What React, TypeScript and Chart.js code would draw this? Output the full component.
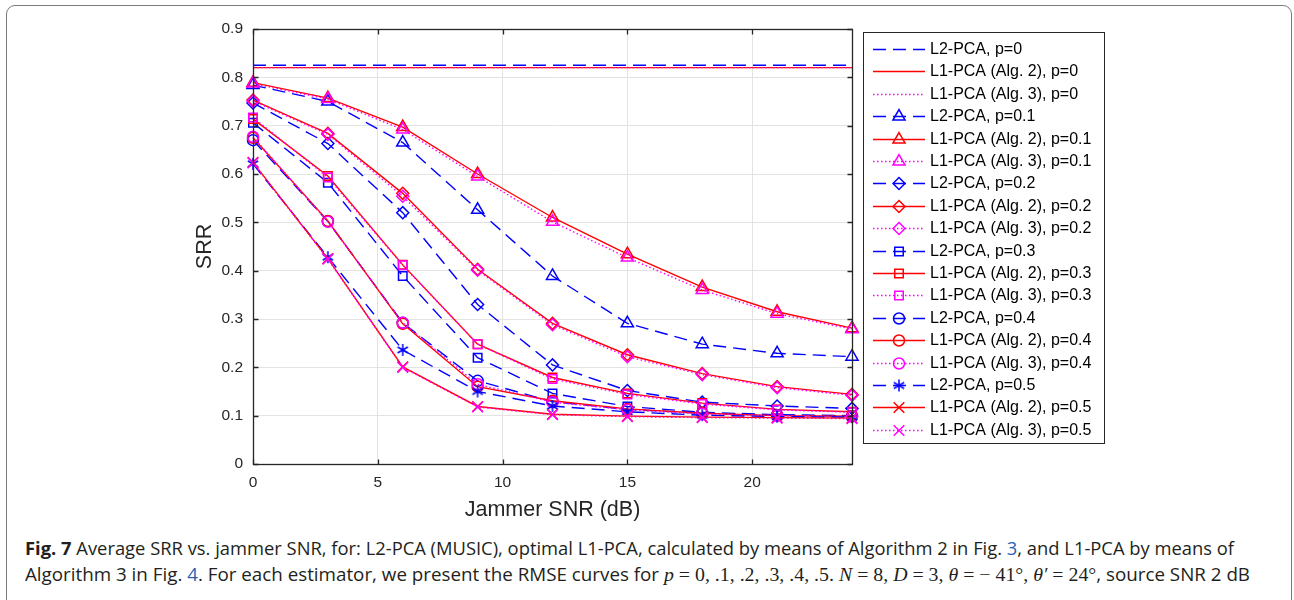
import React, { useEffect, useRef, useLayoutEffect } from "react";
import { Chart, registerables } from "chart.js";

Chart.register(...registerables);

// ---------- data ----------
const X_VALUES = [0, 3, 6, 9, 12, 15, 18, 21, 24];
const X_TICKS = [0, 5, 10, 15, 20];
const X_TICK_LABELS = ["0", "5", "10", "15", "20"];
const Y_TICKS = [0, 0.1, 0.2, 0.3, 0.4, 0.5, 0.6, 0.7, 0.8, 0.9];
const Y_TICK_LABELS = ["0", "0.1", "0.2", "0.3", "0.4", "0.5", "0.6", "0.7", "0.8", "0.9"];

const L2_P0 = [0.825, 0.825, 0.825, 0.825, 0.825, 0.825, 0.825, 0.825, 0.825];
const A2_P0 = [0.82, 0.82, 0.82, 0.82, 0.82, 0.82, 0.82, 0.82, 0.82];
const A3_P0 = [0.82, 0.82, 0.82, 0.82, 0.82, 0.82, 0.82, 0.82, 0.82];

const L2_P01 = [0.784, 0.75, 0.665, 0.526, 0.389, 0.291, 0.248, 0.229, 0.222];
const A2_P01 = [0.789, 0.757, 0.697, 0.6, 0.51, 0.434, 0.366, 0.315, 0.281];
const A3_P01 = [0.787, 0.755, 0.692, 0.595, 0.501, 0.427, 0.36, 0.311, 0.279];

const L2_P02 = [0.747, 0.663, 0.52, 0.33, 0.205, 0.152, 0.128, 0.12, 0.115];
const A2_P02 = [0.753, 0.684, 0.56, 0.403, 0.291, 0.226, 0.187, 0.16, 0.144];
const A3_P02 = [0.751, 0.682, 0.554, 0.401, 0.288, 0.222, 0.185, 0.158, 0.142];

const L2_P03 = [0.706, 0.582, 0.389, 0.22, 0.146, 0.119, 0.107, 0.102, 0.1];
const A2_P03 = [0.714, 0.596, 0.412, 0.248, 0.179, 0.146, 0.126, 0.113, 0.108];
const A3_P03 = [0.717, 0.593, 0.411, 0.248, 0.176, 0.144, 0.124, 0.112, 0.107];

const L2_P04 = [0.67, 0.502, 0.292, 0.172, 0.129, 0.113, 0.105, 0.101, 0.099];
const A2_P04 = [0.675, 0.503, 0.29, 0.16, 0.131, 0.114, 0.105, 0.1, 0.099];
const A3_P04 = [0.677, 0.501, 0.292, 0.165, 0.128, 0.112, 0.104, 0.1, 0.098];

const L2_P05 = [0.621, 0.428, 0.236, 0.15, 0.12, 0.108, 0.101, 0.098, 0.097];
const A2_P05 = [0.624, 0.425, 0.201, 0.119, 0.103, 0.099, 0.097, 0.096, 0.095];
const A3_P05 = [0.623, 0.424, 0.2, 0.118, 0.102, 0.098, 0.096, 0.095, 0.094];

const P_LABELS = ["0", "0.1", "0.2", "0.3", "0.4", "0.5"];
const SERIES_BY_P = [
  [L2_P0, A2_P0, A3_P0],
  [L2_P01, A2_P01, A3_P01],
  [L2_P02, A2_P02, A3_P02],
  [L2_P03, A2_P03, A3_P03],
  [L2_P04, A2_P04, A3_P04],
  [L2_P05, A2_P05, A3_P05],
];
const METHOD_NAMES = ["L2-PCA", "L1-PCA (Alg. 2)", "L1-PCA (Alg. 3)"];

// ---------- styles ----------
const FONT = "'Liberation Sans', Arial, Helvetica, sans-serif";
const METHOD_STYLE = [
  { color: "#0000ff", dash: [13, 7] },
  { color: "#ff0000", dash: [] as number[] },
  { color: "#ff00ff", dash: [1.5, 2.5] },
];
const MARKERS = ["none", "triangle", "rectRot", "rect", "circle", "cross"];
const MARKER_R: Record<string, number> = {
  triangle: 7,
  rectRot: 6,
  rect: 6,
  circle: 5.5,
  crossRot: 7.5,
  asterisk: 6,
};

function makeAsterisk(color: string, r: number) {
  const size = Math.ceil(2 * r + 4);
  const c = document.createElement("canvas");
  c.width = size;
  c.height = size;
  const ctx = c.getContext("2d")!;
  const cx = size / 2;
  ctx.strokeStyle = color;
  ctx.lineWidth = 1.5;
  ctx.beginPath();
  for (const a of [Math.PI / 2, Math.PI / 6, (5 * Math.PI) / 6]) {
    const dx = Math.cos(a) * r;
    const dy = Math.sin(a) * r;
    ctx.moveTo(cx - dx, cx - dy);
    ctx.lineTo(cx + dx, cx + dy);
  }
  ctx.stroke();
  return c;
}

function drawMarker(ctx: CanvasRenderingContext2D, style: any, x: number, y: number, r: number) {
  if (style instanceof HTMLCanvasElement) {
    ctx.drawImage(style, x - style.width / 2, y - style.height / 2);
    return;
  }
  ctx.beginPath();
  switch (style) {
    case "triangle": {
      let rad = 0;
      ctx.moveTo(x + Math.sin(rad) * r, y - Math.cos(rad) * r);
      rad += (2 * Math.PI) / 3;
      ctx.lineTo(x + Math.sin(rad) * r, y - Math.cos(rad) * r);
      rad += (2 * Math.PI) / 3;
      ctx.lineTo(x + Math.sin(rad) * r, y - Math.cos(rad) * r);
      ctx.closePath();
      break;
    }
    case "rectRot":
      ctx.moveTo(x, y - r);
      ctx.lineTo(x + r, y);
      ctx.lineTo(x, y + r);
      ctx.lineTo(x - r, y);
      ctx.closePath();
      break;
    case "rect": {
      const s = Math.SQRT1_2 * r;
      ctx.rect(x - s, y - s, 2 * s, 2 * s);
      break;
    }
    case "circle":
      ctx.arc(x, y, r, 0, Math.PI * 2);
      break;
    case "crossRot": {
      const s = Math.SQRT1_2 * r;
      ctx.moveTo(x - s, y - s);
      ctx.lineTo(x + s, y + s);
      ctx.moveTo(x + s, y - s);
      ctx.lineTo(x - s, y + s);
      break;
    }
  }
  ctx.stroke();
}

const CANVAS_W = 1294;
const CANVAS_H = 530;
const AREA = { left: 253, right: 852, top: 29, bottom: 464 };

export default function App() {
  const canvasRef = useRef<HTMLCanvasElement>(null);
  const line1Ref = useRef<HTMLSpanElement>(null);
  const line2Ref = useRef<HTMLSpanElement>(null);

  useLayoutEffect(() => {
    const fit = (el: HTMLSpanElement | null, w: number) => {
      if (!el) return;
      el.style.transform = "none";
      const cw = el.getBoundingClientRect().width;
      if (cw > 0) el.style.transform = `scaleX(${w / cw})`;
    };
    fit(line1Ref.current, 1209);
    fit(line2Ref.current, 1225);
  }, []);

  useEffect(() => {
    if (!canvasRef.current) return;
    const datasets: any[] = [];
    const legendItems: any[] = [];
    const n = 18;
    let idx = 0;
    SERIES_BY_P.forEach((group, pi) => {
      group.forEach((vals, mi) => {
        const st = METHOD_STYLE[mi];
        let marker: any = MARKERS[pi];
        if (marker === "cross") marker = mi === 0 ? "asterisk" : "crossRot";
        const r = marker === "none" ? 0 : MARKER_R[marker];
        const pointStyle = marker === "asterisk" ? makeAsterisk(st.color, r) : marker === "none" ? "circle" : marker;
        datasets.push({
          label: `${METHOD_NAMES[mi]}, p=${P_LABELS[pi]}`,
          data: X_VALUES.map((x, i) => ({ x, y: vals[i] })),
          borderColor: st.color,
          borderDash: st.dash,
          borderWidth: 1.4,
          pointStyle,
          pointRadius: r,
          pointBorderWidth: 1.5,
          pointBorderColor: st.color,
          pointBackgroundColor: "rgba(0,0,0,0)",
          pointHoverRadius: r,
          tension: 0,
          fill: false,
          clip: false,
          order: n - idx,
        });
        legendItems.push({ text: `${METHOD_NAMES[mi]}, p=${P_LABELS[pi]}`, color: st.color, dash: st.dash, pointStyle: marker === "none" ? null : pointStyle, r });
        idx++;
      });
    });

    const boxPlugin = {
      id: "boxPlugin",
      afterDatasetsDraw(chart: any) {
        const { ctx, chartArea, scales } = chart;
        ctx.save();
        ctx.strokeStyle = "#262626";
        ctx.lineWidth = 1.3;
        ctx.setLineDash([]);
        const l = Math.round(chartArea.left) + 0.5;
        const r = Math.round(chartArea.right) + 0.5;
        const t = Math.round(chartArea.top) + 0.5;
        const b = Math.round(chartArea.bottom) + 0.5;
        ctx.strokeRect(l, t, r - l, b - t);
        const tl = 5;
        ctx.beginPath();
        X_TICKS.forEach((v) => {
          const px = Math.round(scales.x.getPixelForValue(v)) + 0.5;
          ctx.moveTo(px, b);
          ctx.lineTo(px, b - tl);
          ctx.moveTo(px, t);
          ctx.lineTo(px, t + tl);
        });
        Y_TICKS.forEach((v) => {
          const py = Math.round(scales.y.getPixelForValue(v)) + 0.5;
          ctx.moveTo(l, py);
          ctx.lineTo(l + tl, py);
          ctx.moveTo(r, py);
          ctx.lineTo(r - tl, py);
        });
        ctx.stroke();
        ctx.restore();
      },
      afterDraw(chart: any) {
        const { ctx } = chart;
        ctx.save();
        const bx = 863.5, by = 32.5, bw = 241, bh = 411;
        ctx.fillStyle = "#ffffff";
        ctx.fillRect(bx, by, bw, bh);
        ctx.strokeStyle = "#262626";
        ctx.lineWidth = 1;
        ctx.strokeRect(bx, by, bw, bh);
        const y0 = 49;
        const step = 22.4;
        legendItems.forEach((it, i) => {
          const y = Math.round(y0 + i * step) + 0.5;
          ctx.strokeStyle = it.color;
          ctx.lineWidth = 1.4;
          ctx.setLineDash(it.dash);
          ctx.beginPath();
          ctx.moveTo(873, y);
          ctx.lineTo(925, y);
          ctx.stroke();
          ctx.setLineDash([]);
          if (it.pointStyle) {
            ctx.lineWidth = 1.5;
            drawMarker(ctx, it.pointStyle, 899, y, it.r);
          }
          ctx.fillStyle = "#000000";
          ctx.font = `16px ${FONT}`;
          ctx.textBaseline = "middle";
          ctx.textAlign = "left";
          ctx.fillText(it.text, 930, y + 0.5);
        });
        ctx.restore();
      },
    };

    const chart = new Chart(canvasRef.current, {
      type: "line",
      data: { datasets },
      options: {
        animation: false,
        responsive: false,
        maintainAspectRatio: false,
        devicePixelRatio: 1,
        layout: { padding: { left: 0, right: CANVAS_W - AREA.right, top: AREA.top, bottom: 0 } },
        plugins: { legend: { display: false }, tooltip: { enabled: false } },
        events: [],
        scales: {
          x: {
            type: "linear",
            min: 0,
            max: 24,
            afterBuildTicks: (s: any) => {
              s.ticks = X_TICKS.map((v) => ({ value: v }));
            },
            afterFit: (s: any) => {
              s.height = CANVAS_H - AREA.bottom;
            },
            grid: { color: "#e3e3e3", lineWidth: 1, drawTicks: false },
            border: { display: false },
            ticks: {
              padding: 9,
              autoSkip: false,
              maxRotation: 0,
              color: "#262626",
              font: { family: FONT, size: 15.5 },
              callback: (_v: any, i: number) => X_TICK_LABELS[i],
            },
            title: {
              display: true,
              text: "Jammer SNR (dB)",
              color: "#262626",
              font: { family: FONT, size: 21.5 },
              padding: { top: 0, bottom: 7 },
            },
          },
          y: {
            type: "linear",
            min: 0,
            max: 0.9,
            afterBuildTicks: (s: any) => {
              s.ticks = Y_TICKS.map((v) => ({ value: v }));
            },
            afterFit: (s: any) => {
              s.width = AREA.left;
            },
            grid: { color: "#e3e3e3", lineWidth: 1, drawTicks: false },
            border: { display: false },
            ticks: {
              padding: 10,
              autoSkip: false,
              color: "#262626",
              font: { family: FONT, size: 15.5 },
              callback: (_v: any, i: number) => Y_TICK_LABELS[i],
            },
            title: {
              display: true,
              text: "SRR",
              color: "#262626",
              font: { family: FONT, size: 21.5 },
              padding: { top: 192, bottom: 0 },
            },
          },
        },
      } as any,
      plugins: [boxPlugin],
    });
    return () => chart.destroy();
  }, []);

  const math = { fontFamily: "'Liberation Serif', 'Times New Roman', serif", fontSize: 18.5 };
  const it = { ...math, fontStyle: "italic" as const };
  return (
    <div style={{ position: "absolute", left: 0, top: 0, width: 1294, height: 600, overflow: "hidden", background: "#fff" }}>
      <div
        style={{
          position: "absolute",
          left: 6,
          top: 5,
          width: 1284,
          height: 640,
          border: "1.5px solid #7a7a7a",
          borderRadius: 9,
        }}
      />
      <canvas ref={canvasRef} width={CANVAS_W} height={CANVAS_H} style={{ position: "absolute", left: 0, top: 0, width: CANVAS_W, height: CANVAS_H }} />
      <div
        style={{
          position: "absolute",
          left: 25,
          top: 535,
          fontFamily: "'Open Sans', 'Noto Sans', sans-serif",
          fontSize: 17.5,
          color: "#231f20",
          whiteSpace: "nowrap",
          lineHeight: "26px",
        }}
      >
        <span ref={line1Ref} style={{ display: "inline-block", transformOrigin: "left center" }}>
          <b>Fig. 7</b> Average SRR vs. jammer SNR, for: L2-PCA (MUSIC), optimal L1-PCA, calculated by means of Algorithm 2 in Fig.{" "}
          <span style={{ color: "#2b5fb4" }}>3</span>, and L1-PCA by means of
        </span>
        <br />
        <span ref={line2Ref} style={{ display: "inline-block", transformOrigin: "left center" }}>
          Algorithm 3 in Fig. <span style={{ color: "#2b5fb4" }}>4</span>. For each estimator, we present the RMSE curves for{" "}
          <span style={it}>p</span>
          <span style={math}> = 0, .1, .2, .3, .4, .5. </span>
          <span style={it}>N</span>
          <span style={math}> = 8, </span>
          <span style={it}>D</span>
          <span style={math}> = 3, </span>
          <span style={it}>θ</span>
          <span style={math}> = − 41°, </span>
          <span style={it}>θ′</span>
          <span style={math}> = 24°</span>, source SNR 2 dB
        </span>
      </div>
    </div>
  );
}
